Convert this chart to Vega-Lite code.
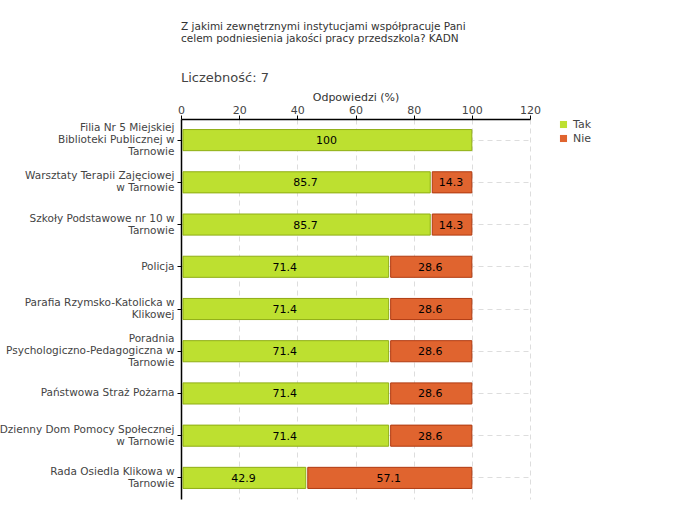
{
  "$schema": "https://vega.github.io/schema/vega-lite/v6.json",
  "autosize": "none",
  "width": 349,
  "height": 380,
  "padding": {"left": 181, "top": 119, "right": 150, "bottom": 21},
  "config": {
    "font": "DejaVu Sans",
    "view": {"stroke": null}
  },
  "title": {
    "text": ["Z jakimi zewnętrznymi instytucjami współpracuje Pani", "celem podniesienia jakości pracy przedszkola? KADN"],
    "subtitle": "Liczebność: 7",
    "anchor": "start",
    "frame": "group",
    "fontSize": 10.5,
    "fontWeight": "normal",
    "color": "#333333",
    "lineHeight": 12,
    "subtitleFontSize": 13,
    "subtitleColor": "#444444",
    "subtitlePadding": 28,
    "offset": 6
  },
  "data": {
    "values": [
      {"inst": "Filia Nr 5 Miejskiej|Biblioteki Publicznej w|Tarnowie", "ans": "Tak", "ord": 1, "value": 100},
      {"inst": "Warsztaty Terapii Zajęciowej|w Tarnowie", "ans": "Tak", "ord": 1, "value": 85.7},
      {"inst": "Warsztaty Terapii Zajęciowej|w Tarnowie", "ans": "Nie", "ord": 2, "value": 14.3},
      {"inst": "Szkoły Podstawowe nr 10 w|Tarnowie", "ans": "Tak", "ord": 1, "value": 85.7},
      {"inst": "Szkoły Podstawowe nr 10 w|Tarnowie", "ans": "Nie", "ord": 2, "value": 14.3},
      {"inst": "Policja", "ans": "Tak", "ord": 1, "value": 71.4},
      {"inst": "Policja", "ans": "Nie", "ord": 2, "value": 28.6},
      {"inst": "Parafia Rzymsko-Katolicka w|Klikowej", "ans": "Tak", "ord": 1, "value": 71.4},
      {"inst": "Parafia Rzymsko-Katolicka w|Klikowej", "ans": "Nie", "ord": 2, "value": 28.6},
      {"inst": "Poradnia|Psychologiczno-Pedagogiczna w|Tarnowie", "ans": "Tak", "ord": 1, "value": 71.4},
      {"inst": "Poradnia|Psychologiczno-Pedagogiczna w|Tarnowie", "ans": "Nie", "ord": 2, "value": 28.6},
      {"inst": "Państwowa Straż Pożarna", "ans": "Tak", "ord": 1, "value": 71.4},
      {"inst": "Państwowa Straż Pożarna", "ans": "Nie", "ord": 2, "value": 28.6},
      {"inst": "Dzienny Dom Pomocy Społecznej|w Tarnowie", "ans": "Tak", "ord": 1, "value": 71.4},
      {"inst": "Dzienny Dom Pomocy Społecznej|w Tarnowie", "ans": "Nie", "ord": 2, "value": 28.6},
      {"inst": "Rada Osiedla Klikowa w|Tarnowie", "ans": "Tak", "ord": 1, "value": 42.9},
      {"inst": "Rada Osiedla Klikowa w|Tarnowie", "ans": "Nie", "ord": 2, "value": 57.1}
    ]
  },
  "transform": [
    {"stack": "value", "groupby": ["inst"], "sort": [{"field": "ord"}], "as": ["x0", "x1"]},
    {"calculate": "(datum.x0 + datum.x1) / 2", "as": "xm"}
  ],
  "encoding": {
    "y": {
      "field": "inst",
      "type": "nominal",
      "sort": null,
      "scale": {"paddingInner": 0.5, "paddingOuter": 0.25},
      "axis": {
        "title": null,
        "labelExpr": "split(datum.label, '|')",
        "labelFontSize": 10.5,
        "labelColor": "#444444",
        "labelLineHeight": 12,
        "labelLimit": 200,
        "labelPadding": 3,
        "labelOffset": {
          "condition": [
            {"test": "length(split(datum.label, '|')) == 3", "value": -12},
            {"test": "length(split(datum.label, '|')) == 2", "value": -6}
          ],
          "value": 0
        },
        "tickColor": "#000000",
        "tickSize": 4,
        "domainColor": "#000000",
        "domainWidth": 1.5,
        "grid": true,
        "gridColor": "#dddddd",
        "gridDash": [5, 4],
        "bandPosition": 0.5
      }
    }
  },
  "layer": [
    {
      "mark": {"type": "bar", "strokeWidth": 1, "xOffset": 2},
      "encoding": {
        "x": {
          "field": "x0",
          "type": "quantitative",
          "scale": {"domain": [0, 120], "nice": false},
          "axis": {
            "orient": "top",
            "title": "Odpowiedzi (%)",
            "titleFontSize": 11,
            "titleFontWeight": "normal",
            "titleColor": "#333333",
            "titlePadding": 2,
            "values": [0, 10, 20, 30, 40, 50, 60, 70, 80, 90, 100, 110, 120],
            "labelExpr": "datum.value % 20 == 0 ? datum.label : ''",
            "labelFontSize": 11,
            "labelColor": "#444444",
            "labelPadding": 0,
            "labelFlush": false,
            "domainColor": "#000000",
            "domainWidth": 1.5,
            "tickColor": {"condition": {"test": "datum.value % 20 != 0", "value": "#dd0000"}, "value": "#000000"},
            "tickSize": {"condition": {"test": "datum.value % 20 != 0", "value": 3}, "value": 4},
            "grid": true,
            "gridColor": "#dddddd",
            "gridDash": [5, 4],
            "gridOpacity": {"condition": {"test": "datum.value % 20 != 0 || datum.value == 0", "value": 0}, "value": 1}
          }
        },
        "x2": {"field": "x1"},
        "color": {
          "field": "ans",
          "type": "nominal",
          "sort": ["Tak", "Nie"],
          "scale": {"domain": ["Tak", "Nie"], "range": ["#bde030", "#e0642f"]},
          "legend": {
            "title": null,
            "orient": "right",
            "offset": 28,
            "symbolType": "square",
            "symbolSize": 50,
            "symbolStrokeWidth": 0,
            "labelFontSize": 11,
            "labelColor": "#444444",
            "rowPadding": 2
          }
        },
        "stroke": {
          "field": "ans",
          "type": "nominal",
          "scale": {"domain": ["Tak", "Nie"], "range": ["#8fae14", "#b03a10"]},
          "legend": null
        }
      }
    },
    {
      "mark": {"type": "text", "fontSize": 11, "color": "#000000", "dy": 1},
      "encoding": {
        "x": {"field": "xm", "type": "quantitative"},
        "text": {"field": "value", "type": "quantitative"}
      }
    }
  ]
}
